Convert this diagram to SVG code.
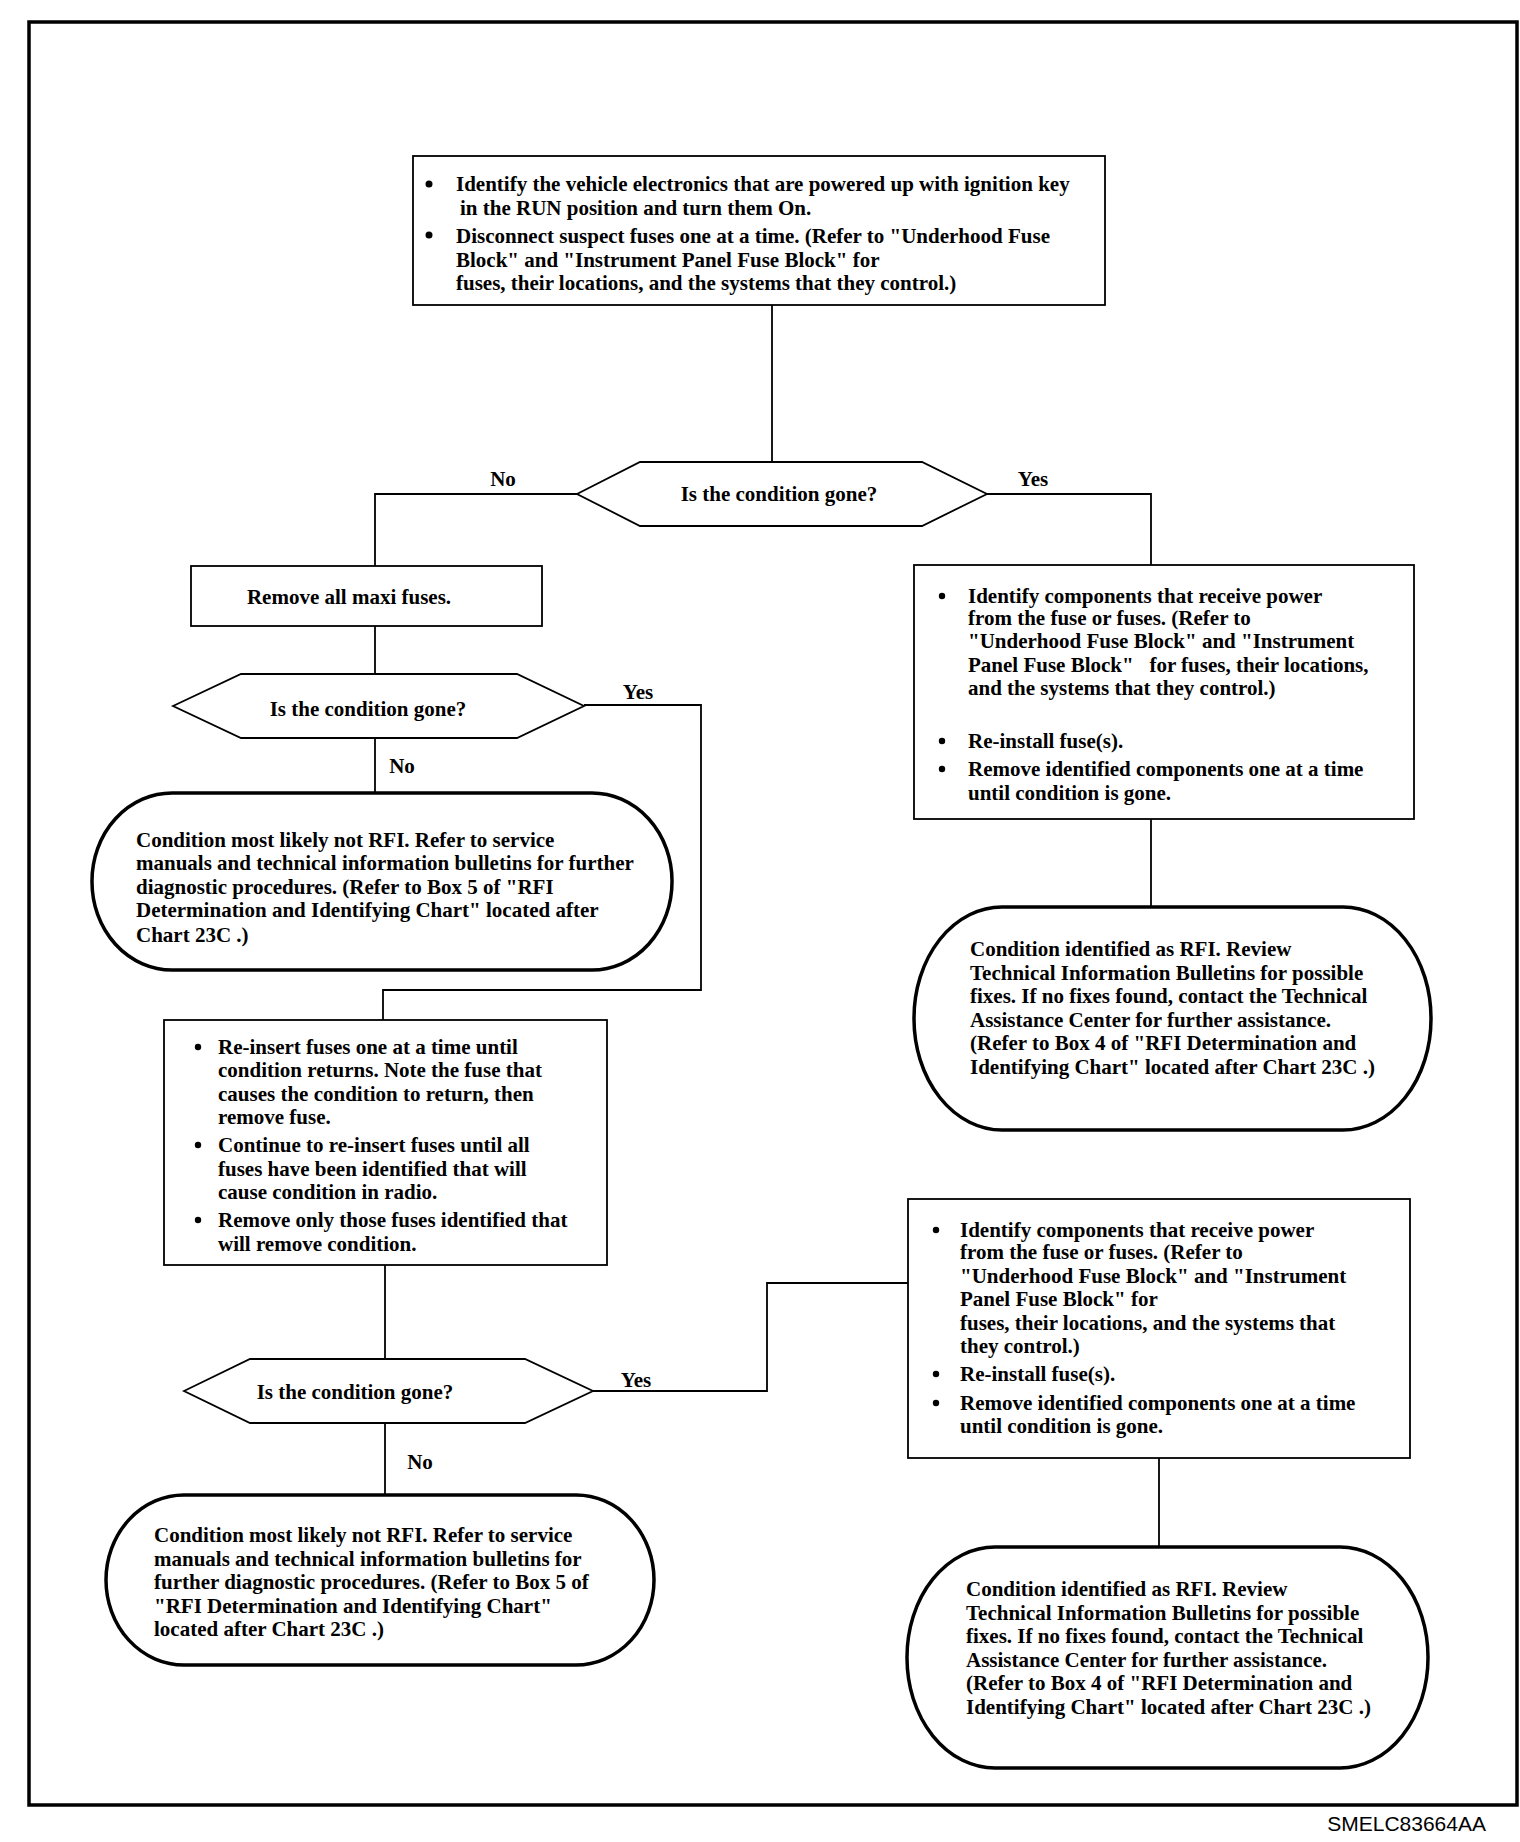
<svg xmlns="http://www.w3.org/2000/svg" width="1520" height="1842" viewBox="0 0 1520 1842">
<style>
text{font-family:"Liberation Serif","Times New Roman",serif;font-size:21px;font-weight:bold;fill:#000}
.box{fill:#fff;stroke:#000;stroke-width:1.8}
.term{fill:#fff;stroke:#000;stroke-width:3.5}
.dia{fill:#fff;stroke:#000;stroke-width:1.8}
.con{fill:none;stroke:#000;stroke-width:1.8}
.cap{font-family:"Liberation Sans",Arial,sans-serif;font-size:21px;font-weight:normal}
.pre{white-space:pre}
</style>
<rect x="0" y="0" width="1520" height="1842" fill="#fff"/>
<rect id="frame" x="29" y="22" width="1488" height="1783" fill="none" stroke="#000" stroke-width="3.5"/>
<text class="cap" x="1486" y="1831" text-anchor="end">SMELC83664AA</text>

<g id="connectors">
<path class="con" d="M772,305 V462"/>
<path class="con" d="M577,494 H375 V566"/>
<path class="con" d="M987,494 H1151 V565"/>
<path class="con" d="M375,626 V674"/>
<path class="con" d="M375,738 V793"/>
<path class="con" d="M584,705 H701 V990 H383 V1020"/>
<path class="con" d="M385,1265 V1359"/>
<path class="con" d="M593,1391 H767 V1283 H908"/>
<path class="con" d="M385,1423 V1495"/>
<path class="con" d="M1151,819 V907"/>
<path class="con" d="M1159,1458 V1547"/>
<text x="503" y="486" text-anchor="middle">No</text>
<text x="1033" y="486" text-anchor="middle">Yes</text>
<text x="638" y="699" text-anchor="middle">Yes</text>
<text x="402" y="773" text-anchor="middle">No</text>
<text x="636" y="1387" text-anchor="middle">Yes</text>
<text x="420" y="1469" text-anchor="middle">No</text>
</g>

<g id="box1">
<rect class="box" x="413" y="156" width="692" height="149"/>
<circle cx="429" cy="184" r="3.5"/>
<circle cx="429" cy="235" r="3.5"/>
<text x="456" y="191">Identify the vehicle electronics that are powered up with ignition key</text>
<text x="460" y="215">in the RUN position and turn them On.</text>
<text x="456" y="243">Disconnect suspect fuses one at a time. (Refer to "Underhood Fuse</text>
<text x="456" y="267">Block" and "Instrument Panel Fuse Block"  for</text>
<text x="456" y="290">fuses, their locations, and the systems that they control.)</text>
</g>

<g id="decision1">
<polygon class="dia" points="577,494 640,462 922,462 987,494 922,526 640,526"/>
<text x="779" y="501" text-anchor="middle">Is the condition gone?</text>
</g>

<g id="box-maxi">
<rect class="box" x="191" y="566" width="351" height="60"/>
<text x="349" y="604" text-anchor="middle">Remove all maxi fuses.</text>
</g>

<g id="decision2">
<polygon class="dia" points="173,706 241,674 517,674 584,706 517,738 241,738"/>
<text x="368" y="716" text-anchor="middle">Is the condition gone?</text>
</g>

<g id="term1">
<rect class="term" x="92" y="793" width="580" height="177" rx="80" ry="88"/>
<text x="136" y="847">Condition most likely not RFI. Refer to service</text>
<text x="136" y="870">manuals and technical information bulletins for further</text>
<text x="136" y="894">diagnostic procedures. (Refer to Box 5 of "RFI</text>
<text x="136" y="917">Determination and Identifying Chart" located after</text>
<text x="136" y="942">Chart 23C .)</text>
</g>

<g id="box3">
<rect class="box" x="164" y="1020" width="443" height="245"/>
<circle cx="198" cy="1047" r="3.2"/>
<circle cx="198" cy="1145" r="3.2"/>
<circle cx="198" cy="1220" r="3.2"/>
<text x="218" y="1054">Re-insert fuses one at a time until</text>
<text x="218" y="1077">condition returns. Note the fuse that</text>
<text x="218" y="1101">causes the condition to return, then</text>
<text x="218" y="1124">remove fuse.</text>
<text x="218" y="1152">Continue to re-insert fuses until all</text>
<text x="218" y="1176">fuses have been identified that will</text>
<text x="218" y="1199">cause condition in radio.</text>
<text x="218" y="1227">Remove only those fuses identified that</text>
<text x="218" y="1251">will remove condition.</text>
</g>

<g id="decision3">
<polygon class="dia" points="184,1391 250,1359 525,1359 593,1391 525,1423 250,1423"/>
<text x="355" y="1399" text-anchor="middle">Is the condition gone?</text>
</g>

<g id="term3">
<rect class="term" x="106" y="1495" width="548" height="170" rx="78" ry="85"/>
<text x="154" y="1542">Condition most likely not RFI. Refer to service</text>
<text x="154" y="1566">manuals and technical information bulletins for</text>
<text x="154" y="1589">further diagnostic procedures. (Refer to Box 5 of</text>
<text x="154" y="1613">"RFI Determination and Identifying Chart"</text>
<text x="154" y="1636">located after Chart 23C .)</text>
</g>

<g id="box2">
<rect class="box" x="914" y="565" width="500" height="254"/>
<circle cx="942" cy="596" r="3.2"/>
<circle cx="942" cy="741" r="3.2"/>
<circle cx="942" cy="769" r="3.2"/>
<text x="968" y="603">Identify components that receive power</text>
<text x="968" y="625">from the fuse or fuses. (Refer to</text>
<text x="968" y="648">"Underhood Fuse Block" and "Instrument</text>
<text class="pre" x="968" y="672">Panel Fuse Block"   for fuses, their locations,</text>
<text x="968" y="695">and the systems that they control.)</text>
<text x="968" y="748">Re-install fuse(s).</text>
<text x="968" y="776">Remove identified components one at a time</text>
<text x="968" y="800">until condition is gone.</text>
</g>

<g id="term2">
<rect class="term" x="914" y="907" width="517" height="223" rx="88" ry="111"/>
<text x="970" y="956">Condition identified as RFI. Review</text>
<text x="970" y="980">Technical Information Bulletins for possible</text>
<text x="970" y="1003">fixes. If no fixes found, contact the Technical</text>
<text x="970" y="1027">Assistance Center for further assistance.</text>
<text x="970" y="1050">(Refer to Box 4 of "RFI Determination and</text>
<text x="970" y="1074">Identifying Chart" located after Chart 23C .)</text>
</g>

<g id="box4">
<rect class="box" x="908" y="1199" width="502" height="259"/>
<circle cx="936" cy="1230" r="3.2"/>
<circle cx="936" cy="1374" r="3.2"/>
<circle cx="936" cy="1403" r="3.2"/>
<text x="960" y="1237">Identify components that receive power</text>
<text x="960" y="1259">from the fuse or fuses. (Refer to</text>
<text x="960" y="1283">"Underhood Fuse Block" and "Instrument</text>
<text x="960" y="1306">Panel Fuse Block"  for</text>
<text x="960" y="1330">fuses, their locations, and the systems that</text>
<text x="960" y="1353">they control.)</text>
<text x="960" y="1381">Re-install fuse(s).</text>
<text x="960" y="1410">Remove identified components one at a time</text>
<text x="960" y="1433">until condition is gone.</text>
</g>

<g id="term4">
<rect class="term" x="907" y="1547" width="521" height="221" rx="88" ry="110"/>
<text x="966" y="1596">Condition identified as RFI. Review</text>
<text x="966" y="1620">Technical Information Bulletins for possible</text>
<text x="966" y="1643">fixes. If no fixes found, contact the Technical</text>
<text x="966" y="1667">Assistance Center for further assistance.</text>
<text x="966" y="1690">(Refer to Box 4 of "RFI Determination and</text>
<text x="966" y="1714">Identifying Chart" located after Chart 23C .)</text>
</g>
</svg>
